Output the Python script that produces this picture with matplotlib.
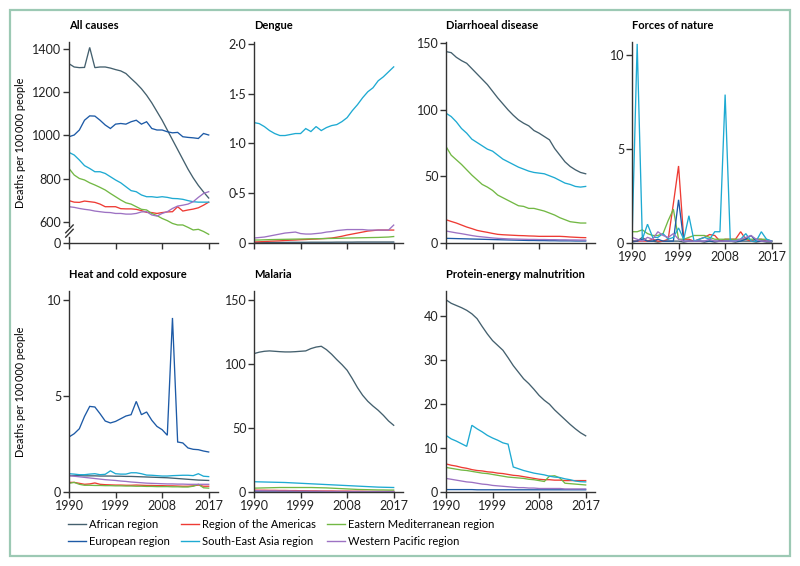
"""Deaths per 100 000 people by WHO region, 1990-2017, small multiples."""

import matplotlib
matplotlib.use("Agg")
import matplotlib.pyplot as plt
import matplotlib.transforms as mtransforms
from matplotlib.lines import Line2D
from matplotlib.patches import Rectangle

plt.rcParams['font.family'] = ['Lato', 'DejaVu Sans']
plt.rcParams['font.size'] = 8.5

years = list(range(1990, 2018))

regions = ['African region', 'Region of the Americas', 'Eastern Mediterranean region',
           'European region', 'South-East Asia region', 'Western Pacific region']
colors = ['#44606e', '#ee3b34', '#72b844', '#1d5aa6', '#1eaad2', '#9d72c3']

# All causes
all_afr = [1330, 1315, 1312, 1313, 1405, 1312, 1315, 1315, 1310, 1303, 1297, 1285, 1262, 1240,
           1215, 1185, 1150, 1110, 1070, 1025, 980, 935, 890, 845, 805, 770, 740, 712]
all_amr = [700, 693, 692, 698, 695, 692, 684, 672, 672, 672, 663, 662, 662, 660,
           654, 646, 645, 641, 645, 648, 649, 672, 652, 657, 661, 667, 679, 693]
all_emr = [848, 818, 802, 795, 782, 772, 761, 749, 733, 718, 703, 690, 684, 672,
           660, 657, 641, 631, 618, 608, 595, 588, 588, 577, 565, 568, 558, 545]
all_eur = [994, 1002, 1025, 1070, 1090, 1089, 1070, 1048, 1032, 1052, 1055, 1052, 1063, 1070,
           1052, 1063, 1032, 1025, 1025, 1017, 1012, 1014, 994, 991, 989, 986, 1009, 1002]
all_sea = [922, 910, 887, 861, 848, 833, 833, 825, 810, 795, 782, 764, 746, 741,
           726, 718, 718, 715, 718, 715, 710, 709, 706, 700, 695, 693, 693, 693]
all_wpr = [672, 669, 664, 660, 657, 652, 649, 646, 645, 641, 641, 638, 638, 641,
           648, 649, 634, 629, 641, 649, 664, 675, 679, 684, 695, 715, 733, 741]

# Dengue
den_afr = [0.005, 0.005, 0.005, 0.006, 0.006, 0.006, 0.006, 0.007, 0.007, 0.007, 0.007, 0.008, 0.008, 0.008,
           0.008, 0.008, 0.009, 0.009, 0.009, 0.009, 0.01, 0.01, 0.01, 0.01, 0.01, 0.01, 0.01, 0.01]
den_amr = [0.01, 0.012, 0.015, 0.018, 0.02, 0.022, 0.025, 0.028, 0.03, 0.033, 0.035, 0.038, 0.04, 0.043,
           0.046, 0.05, 0.058, 0.068, 0.08, 0.09, 0.10, 0.11, 0.12, 0.125, 0.13, 0.13, 0.13, 0.13]
den_emr = [0.03, 0.03, 0.032, 0.034, 0.035, 0.036, 0.037, 0.038, 0.039, 0.04, 0.041, 0.042, 0.043, 0.044,
           0.045, 0.046, 0.047, 0.048, 0.05, 0.051, 0.052, 0.053, 0.054, 0.055, 0.056, 0.058, 0.06, 0.065]
den_eur = [0.002, 0.002, 0.002, 0.002, 0.002, 0.002, 0.002, 0.002, 0.002, 0.002, 0.002, 0.002, 0.002, 0.002,
           0.002, 0.002, 0.002, 0.002, 0.002, 0.002, 0.002, 0.002, 0.002, 0.002, 0.002, 0.002, 0.002, 0.002]
den_sea = [1.21, 1.20, 1.17, 1.13, 1.10, 1.08, 1.08, 1.09, 1.10, 1.10, 1.15, 1.12, 1.17, 1.13,
           1.16, 1.18, 1.19, 1.22, 1.26, 1.33, 1.39, 1.46, 1.52, 1.56, 1.63, 1.67, 1.72, 1.77]
den_wpr = [0.05, 0.055, 0.06, 0.07, 0.08, 0.09, 0.10, 0.105, 0.11, 0.095, 0.09, 0.09, 0.095, 0.10,
           0.11, 0.115, 0.125, 0.13, 0.135, 0.135, 0.135, 0.135, 0.13, 0.13, 0.13, 0.13, 0.13, 0.18]

# Diarrhoeal disease
dia_afr = [143.8, 143, 139.5, 137, 135, 131, 127, 123, 119, 114, 109, 104.5, 100, 96,
           92.5, 90, 88, 84.5, 82.5, 80, 77.5, 71, 66, 61, 57.5, 55, 53, 52]
dia_amr = [17.5, 16.2, 15, 13.5, 12, 10.8, 9.5, 8.7, 8, 7.2, 6.5, 6.2, 6, 5.8,
           5.6, 5.5, 5.3, 5.2, 5, 5, 5, 5, 5, 4.8, 4.5, 4.3, 4.1, 4]
dia_emr = [72.5, 66, 62.5, 59, 55, 51, 47.5, 44, 42, 39.5, 36, 34, 32, 30,
           28, 27.5, 26, 26, 25, 24, 22.5, 21, 19, 17.5, 16, 15.5, 15, 15]
dia_eur = [3.5, 3.4, 3.3, 3.2, 3.1, 3.0, 2.9, 2.8, 2.7, 2.6, 2.5, 2.4, 2.3, 2.2,
           2.1, 2.0, 1.9, 1.9, 1.8, 1.8, 1.7, 1.7, 1.6, 1.6, 1.6, 1.5, 1.5, 1.5]
dia_sea = [97.5, 95, 91, 86, 82.5, 78, 75.5, 73, 70.5, 69, 66, 63, 61, 59,
           57, 55.5, 54, 53, 52.5, 52, 50.5, 49, 47, 45, 44, 42.5, 42, 42.5]
dia_wpr = [9, 8.3, 7.6, 7, 6.3, 5.6, 5, 4.6, 4.2, 3.8, 3.5, 3.3, 3.1, 3,
           2.9, 2.8, 2.7, 2.7, 2.6, 2.6, 2.5, 2.5, 2.4, 2.4, 2.3, 2.3, 2.2, 2.2]

# Forces of nature
fon_afr = [0.05, 0.1, 0.3, 0.1, 0.1, 0.05, 0.1, 0.1, 0.1, 0.1, 0.05, 0.1, 0.1, 0.1,
           0.05, 0.1, 0.05, 0.1, 0.1, 0.1, 0.05, 0.1, 0.1, 0.1, 0.05, 0.1, 0.05, 0.05]
fon_amr = [0.1, 0.1, 0.1, 0.1, 0.2, 0.1, 0.1, 0.2, 2.1, 4.1, 0.2, 0.2, 0.1, 0.2,
           0.3, 0.45, 0.4, 0.1, 0.2, 0.2, 0.2, 0.6, 0.2, 0.1, 0.2, 0.2, 0.1, 0.1]
fon_emr = [0.6, 0.6, 0.7, 0.5, 0.4, 0.4, 0.5, 1.2, 1.8, 0.2, 0.2, 0.3, 0.4, 0.4,
           0.4, 0.3, 0.2, 0.2, 0.2, 0.2, 0.2, 0.2, 0.2, 0.2, 0.2, 0.2, 0.2, 0.1]
fon_eur = [0.1, 0.1, 0.2, 0.1, 0.1, 0.2, 0.1, 0.1, 0.1, 2.3, 0.1, 0.1, 0.1, 0.1,
           0.1, 0.1, 0.1, 0.1, 0.1, 0.1, 0.1, 0.1, 0.2, 0.4, 0.1, 0.1, 0.1, 0.1]
fon_sea = [0.1, 10.6, 0.2, 1.0, 0.3, 0.3, 0.5, 0.2, 0.3, 0.8, 0.2, 1.45, 0.1, 0.2,
           0.3, 0.2, 0.6, 0.6, 7.9, 0.1, 0.1, 0.2, 0.5, 0.1, 0.1, 0.6, 0.2, 0.1]
fon_wpr = [0.3, 0.2, 0.1, 0.3, 0.2, 0.6, 0.4, 0.3, 0.5, 0.2, 0.1, 0.1, 0.1, 0.1,
           0.1, 0.2, 0.1, 0.1, 0.1, 0.1, 0.1, 0.2, 0.3, 0.4, 0.2, 0.1, 0.1, 0.1]

# Heat and cold exposure
hce_afr = [0.85, 0.85, 0.85, 0.84, 0.84, 0.84, 0.83, 0.83, 0.83, 0.82, 0.82, 0.81, 0.81, 0.8,
           0.79, 0.78, 0.77, 0.76, 0.75, 0.74, 0.72, 0.7, 0.68, 0.66, 0.64, 0.62, 0.61, 0.6]
hce_amr = [0.5, 0.5, 0.45, 0.4, 0.42, 0.47, 0.4, 0.38, 0.37, 0.36, 0.36, 0.35, 0.35, 0.36,
           0.35, 0.34, 0.34, 0.33, 0.33, 0.32, 0.32, 0.31, 0.3, 0.3, 0.32, 0.36, 0.3, 0.3]
hce_emr = [0.45, 0.5, 0.4, 0.35, 0.35, 0.34, 0.34, 0.33, 0.33, 0.32, 0.32, 0.31, 0.31, 0.3,
           0.3, 0.29, 0.29, 0.28, 0.28, 0.28, 0.27, 0.27, 0.26, 0.26, 0.3, 0.4, 0.22, 0.2]
hce_eur = [2.86, 3.03, 3.29, 3.93, 4.45, 4.42, 4.07, 3.69, 3.59, 3.67, 3.81, 3.95, 4.02, 4.71,
           4.02, 4.16, 3.73, 3.41, 3.24, 2.95, 9.05, 2.6, 2.55, 2.29, 2.22, 2.2, 2.13, 2.08]
hce_sea = [0.95, 0.93, 0.9, 0.9, 0.93, 0.95, 0.9, 0.92, 1.1, 0.95, 0.93, 0.93, 1.0, 1.0,
           0.95, 0.88, 0.87, 0.85, 0.83, 0.83, 0.85, 0.86, 0.87, 0.87, 0.85, 0.95, 0.82, 0.8]
hce_wpr = [0.85, 0.82, 0.79, 0.76, 0.73, 0.7, 0.67, 0.64, 0.62, 0.6, 0.57, 0.55, 0.52, 0.5,
           0.48, 0.46, 0.45, 0.44, 0.43, 0.42, 0.42, 0.41, 0.41, 0.4, 0.4, 0.4, 0.4, 0.4]

# Malaria
mal_afr = [107.9, 109, 109.7, 110, 109.7, 109.4, 109.2, 109.2, 109.4, 109.7, 110, 111.8, 113, 113.6,
           111, 107.4, 103.2, 99.3, 94.9, 88.4, 81.4, 75.4, 70.7, 67, 63.7, 59.8, 55.4, 52]
mal_amr = [1.5, 1.4, 1.4, 1.3, 1.3, 1.2, 1.2, 1.1, 1.1, 1.0, 1.0, 0.9, 0.9, 0.8,
           0.8, 0.8, 0.7, 0.7, 0.7, 0.6, 0.6, 0.6, 0.5, 0.5, 0.5, 0.5, 0.5, 0.5]
mal_emr = [3, 3.1, 3.2, 3.3, 3.4, 3.5, 3.5, 3.5, 3.5, 3.5, 3.5, 3.5, 3.4, 3.3,
           3.2, 3.0, 2.8, 2.6, 2.4, 2.2, 2.0, 1.9, 1.8, 1.7, 1.6, 1.6, 1.5, 1.5]
mal_eur = [0.06, 0.06, 0.05, 0.05, 0.05, 0.05, 0.05, 0.05, 0.04, 0.04, 0.04, 0.04, 0.03, 0.03,
           0.03, 0.03, 0.02, 0.02, 0.02, 0.02, 0.02, 0.01, 0.01, 0.01, 0.01, 0.01, 0.01, 0.01]
mal_sea = [8, 7.9, 7.8, 7.7, 7.6, 7.5, 7.4, 7.2, 7, 6.8, 6.6, 6.4, 6.2, 6,
           5.8, 5.6, 5.4, 5.2, 5, 4.8, 4.6, 4.4, 4.2, 4, 3.8, 3.7, 3.6, 3.5]
mal_wpr = [1.0, 1.0, 0.9, 0.9, 0.9, 0.8, 0.8, 0.8, 0.7, 0.7, 0.7, 0.6, 0.6, 0.6,
           0.5, 0.5, 0.5, 0.4, 0.4, 0.4, 0.4, 0.3, 0.3, 0.3, 0.3, 0.3, 0.3, 0.3]

# Protein-energy malnutrition
pem_afr = [43.8, 43, 42.5, 42, 41.4, 40.6, 39.5, 37.7, 36, 34.5, 33.4, 32.3, 30.6, 28.8,
           27.3, 25.8, 24.7, 23.4, 22, 20.9, 20, 18.7, 17.6, 16.5, 15.4, 14.4, 13.5, 12.8]
pem_amr = [6.4, 6.1, 5.9, 5.6, 5.4, 5.1, 4.9, 4.8, 4.6, 4.5, 4.3, 4.2, 4.0, 3.8,
           3.7, 3.5, 3.3, 3.1, 2.9, 2.8, 2.8, 2.7, 2.7, 2.6, 2.6, 2.6, 2.6, 2.6]
pem_emr = [5.6, 5.4, 5.2, 5.0, 4.9, 4.7, 4.5, 4.3, 4.2, 4.0, 3.8, 3.6, 3.4, 3.3,
           3.2, 3.1, 2.9, 2.8, 2.6, 2.4, 3.6, 3.7, 3.2, 2.0, 1.9, 1.8, 1.7, 1.6]
pem_eur = [0.55, 0.55, 0.55, 0.55, 0.55, 0.55, 0.5, 0.5, 0.5, 0.5, 0.5, 0.5, 0.5, 0.5,
           0.5, 0.5, 0.5, 0.5, 0.5, 0.5, 0.5, 0.5, 0.5, 0.5, 0.5, 0.5, 0.5, 0.5]
pem_sea = [12.9, 12.1, 11.6, 11, 10.4, 15.2, 14.4, 13.7, 12.9, 12.3, 11.8, 11.2, 10.9, 5.7,
           5.3, 4.9, 4.6, 4.3, 4.1, 3.9, 3.6, 3.4, 3.3, 3.0, 2.8, 2.5, 2.35, 2.3]
pem_wpr = [3.1, 2.9, 2.7, 2.5, 2.3, 2.2, 2.0, 1.8, 1.7, 1.5, 1.4, 1.3, 1.2, 1.1,
           1.0, 1.0, 0.9, 0.9, 0.8, 0.8, 0.8, 0.8, 0.8, 0.7, 0.7, 0.7, 0.7, 0.7]

panels = [
    ('All causes', [all_afr, all_amr, all_emr, all_eur, all_sea, all_wpr]),
    ('Dengue', [den_afr, den_amr, den_emr, den_eur, den_sea, den_wpr]),
    ('Diarrhoeal disease', [dia_afr, dia_amr, dia_emr, dia_eur, dia_sea, dia_wpr]),
    ('Forces of nature', [fon_afr, fon_amr, fon_emr, fon_eur, fon_sea, fon_wpr]),
    ('Heat and cold exposure', [hce_afr, hce_amr, hce_emr, hce_eur, hce_sea, hce_wpr]),
    ('Malaria', [mal_afr, mal_amr, mal_emr, mal_eur, mal_sea, mal_wpr]),
    ('Protein-energy malnutrition', [pem_afr, pem_amr, pem_emr, pem_eur, pem_sea, pem_wpr]),
]

# y axis setup per panel: (ylim, ticks, labels)
y_setup = {
    'All causes': ((505, 1430), [505, 600, 800, 1000, 1200, 1400], ['0', '600', '800', '1000', '1200', '1400']),
    'Dengue': ((0, 2.02), [0, 0.5, 1.0, 1.5, 2.0], ['0', '0·5', '1·0', '1·5', '2·0']),
    'Diarrhoeal disease': ((0, 151), [0, 50, 100, 150], None),
    'Forces of nature': ((0, 10.7), [0, 5, 10], None),
    'Heat and cold exposure': ((0, 10.45), [0, 5, 10], None),
    'Malaria': ((0, 156.7), [0, 50, 100, 150], None),
    'Protein-energy malnutrition': ((0, 45.8), [0, 10, 20, 30, 40], None),
}

W, H = 800, 566
fig = plt.figure(figsize=(8, 5.66), dpi=100)
fig.patches.append(Rectangle((9.5 / W, 1 - 556 / H), 780 / W, 546 / H, transform=fig.transFigure,
                             fill=False, edgecolor='#9cc9b4', linewidth=1.6))

lefts = [69, 254, 446, 632]
rows = [(42, 243), (291, 492)]
axis_col = '#333333'

for i, (title, series) in enumerate(panels):
    r, c = divmod(i, 4)
    top, bot = rows[r]
    ax = fig.add_axes([lefts[c] / W, 1 - bot / H, 149 / W, (bot - top) / H])
    for vals, col in zip(series, colors):
        ax.plot(years, vals, color=col, linewidth=0.95, solid_joinstyle='miter')
    ylim, yt, yl = y_setup[title]
    ax.set_ylim(*ylim)
    ax.set_yticks(yt)
    if yl is not None:
        ax.set_yticklabels(yl)
    ax.set_xlim(1990, 2018.8)
    ax.set_xticks([1990, 1999, 2008, 2017])
    if r == 0 and title != 'Forces of nature':
        ax.set_xticklabels([])
    for s in ('top', 'right'):
        ax.spines[s].set_visible(False)
    for s in ('left', 'bottom'):
        ax.spines[s].set_color(axis_col)
        ax.spines[s].set_linewidth(1.0)
    ax.tick_params(length=4, width=1.0, color=axis_col, labelsize=9, labelcolor='#222222', pad=1.5)
    ax.set_title(title, loc='left', fontsize=8, fontweight='bold', pad=9)
    if c == 0:
        ax.set_ylabel('Deaths per 100\u2009000 people', fontsize=7.8)
        ax.yaxis.set_label_coords(-0.29, 0.5)
    ax.patch.set_alpha(0)

    if title == 'All causes':
        # broken y axis between 0 and 600
        ax.spines['left'].set_visible(False)
        trans = mtransforms.blended_transform_factory(ax.transAxes, ax.transData)
        ax.plot([0, 0], [505, 532], color=axis_col, lw=1.0, transform=trans, clip_on=False)
        ax.plot([0, 0], [584, 1430], color=axis_col, lw=1.0, transform=trans, clip_on=False)
        ax.plot([-0.022, 0.028], [532, 568], color=axis_col, lw=1.0, transform=trans, clip_on=False)
        ax.plot([-0.022, 0.028], [552, 588], color=axis_col, lw=1.0, transform=trans, clip_on=False)

handles = [Line2D([], [], color=col, lw=1.0) for col in colors]
order = [0, 3, 1, 4, 2, 5]
fig.legend([handles[k] for k in order], [regions[k] for k in order], ncol=3,
           loc='center left', bbox_to_anchor=(68 / W, 1 - 533 / H), frameon=False,
           fontsize=8, handlelength=1.6, handletextpad=0.3, columnspacing=1.0,
           labelspacing=0.5, borderpad=0, borderaxespad=0)

fig.savefig('out.png', dpi=100)
